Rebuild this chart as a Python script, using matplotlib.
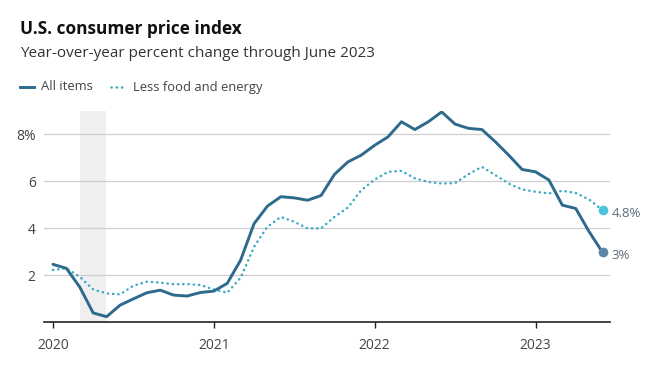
import matplotlib.pyplot as plt
from matplotlib.lines import Line2D

plt.rcParams['font.family'] = ['Open Sans', 'DejaVu Sans']

# monthly, Jan 2020 .. Jun 2023
all_items = [2.47, 2.30, 1.50, 0.40, 0.24, 0.73, 1.00, 1.26, 1.37, 1.16, 1.12, 1.27,
             1.33, 1.66, 2.65, 4.20, 4.95, 5.35, 5.30, 5.20, 5.40, 6.30, 6.83, 7.12,
             7.54, 7.90, 8.54, 8.21, 8.54, 8.96, 8.44, 8.26, 8.21, 7.69, 7.12, 6.51,
             6.41, 6.06, 4.99, 4.85, 3.86, 2.98]
core = [2.23, 2.30, 1.94, 1.40, 1.23, 1.19, 1.56, 1.73, 1.69, 1.62, 1.63, 1.59,
        1.40, 1.26, 1.90, 3.22, 4.07, 4.49, 4.28, 4.00, 4.00, 4.49, 4.89, 5.63,
        6.08, 6.41, 6.45, 6.13, 5.98, 5.91, 5.93, 6.31, 6.62, 6.27, 5.91, 5.66,
        5.56, 5.49, 5.60, 5.51, 5.23, 4.78]
months = list(range(len(all_items)))
year_ticks = [0, 12, 24, 36]
year_labels = ['2020', '2021', '2022', '2023']
recession = (2, 3.95)

dark = '#2d6a8c'
light = '#3aaac4'

fig = plt.figure(figsize=(6.53, 3.77), dpi=100)
ax = fig.add_axes([0.0674, 0.145, 0.8666, 0.5606])

ax.axvspan(recession[0], recession[1], color='#efefef', lw=0, zorder=0)
ax.plot(months, core, color=light, lw=1.8, linestyle=(0, (0.1, 2.0)),
        dash_capstyle='round', zorder=3)
ax.plot(months, all_items, color=dark, lw=2.1, solid_joinstyle='round',
        solid_capstyle='round', zorder=4)

ax.plot(months[-1], core[-1], 'o', ms=7, color='#4ec3da', mec='none', zorder=5)
ax.plot(months[-1], all_items[-1], 'o', ms=7, color='#5b87ab', mec='none', zorder=5)
ax.text(months[-1] + 0.7, core[-1] - 0.15, '4.8%', fontsize=9.5, color='#5d6e7e',
        va='center', ha='left')
ax.text(months[-1] + 0.7, all_items[-1] - 0.15, '3%', fontsize=9.5, color='#5d6e7e',
        va='center', ha='left')

ax.set_xlim(-0.67, 41.55)
ax.set_ylim(0, 9)
ax.set_yticks([2, 4, 6, 8])
ax.set_yticklabels(['2', '4', '6', '8%'])
ax.set_xticks(year_ticks)
ax.set_xticklabels(year_labels)
ax.grid(axis='y', color='#cfcfcf', lw=0.9)
ax.set_axisbelow(True)
for s in ['top', 'right', 'left']:
    ax.spines[s].set_visible(False)
ax.spines['bottom'].set_color('#222222')
ax.spines['bottom'].set_linewidth(1.2)
ax.tick_params(axis='y', length=0, pad=6, labelsize=10, labelcolor='#444444')
ax.tick_params(axis='x', length=4, width=1, color='#222222', pad=7,
               labelsize=10, labelcolor='#444444')

fig.text(20 / 653, 1 - 34 / 377, 'U.S. consumer price index', fontsize=12.4,
         fontweight='bold', color='#111111', va='baseline')
fig.text(20 / 653, 1 - 57 / 377, 'Year-over-year percent change through June 2023',
         fontsize=11, color='#333333', va='baseline')

# legend
ly = 1 - 87 / 377
fig.add_artist(Line2D([20 / 653, 34 / 653], [ly, ly], color=dark, lw=2.1))
fig.text(41 / 653, ly, 'All items', fontsize=9.4, color='#444444', va='center')
fig.add_artist(Line2D([111 / 653, 123 / 653], [ly, ly], color=light, lw=1.8,
                      linestyle=(0, (0.1, 2.0)), dash_capstyle='round'))
fig.text(133 / 653, ly, 'Less food and energy', fontsize=9.4, color='#444444', va='center')

fig.savefig('out.png', dpi=100)
